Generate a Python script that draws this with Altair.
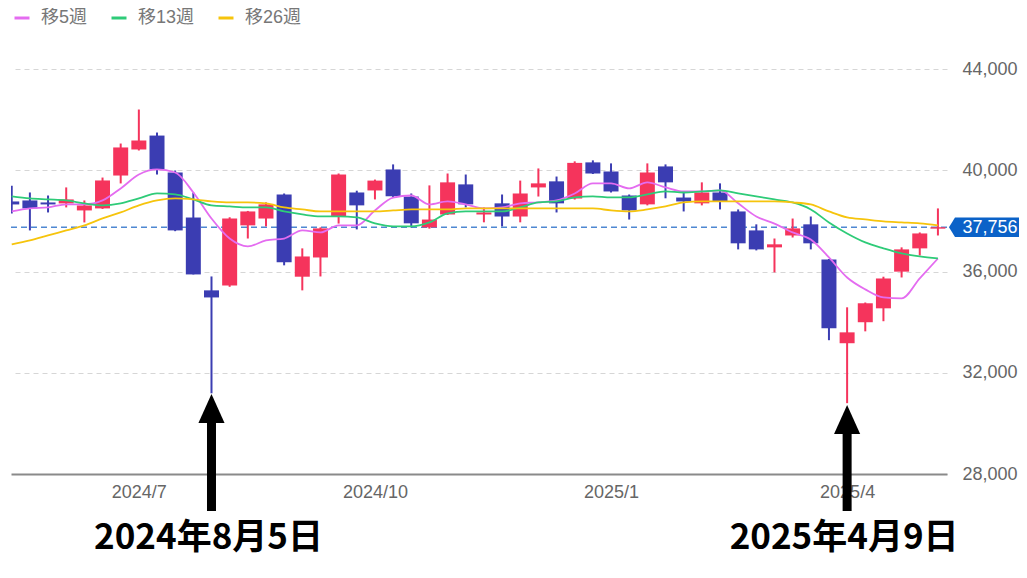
import altair as alt
import pandas as pd

# ---------------- data (weekly candles) ----------------
weeks = list(range(1, 53))
opens = [38775, 38815, 38736, 38697, 38420, 38500, 39800, 40830, 41380, 39920,
         38140, 35260, 35450, 37830, 38100, 39050, 35800, 36560, 38180, 39130,
         39210, 40040, 38970, 37750, 38260, 39450, 38260, 38700, 38180, 39330,
         39570, 38890, 40320, 39960, 39010, 38660, 40160, 38930, 38700, 39130,
         38380, 37630, 36960, 37430, 37870, 36480, 33170, 34000, 34550, 36000,
         36920, 37700]
highs = [39400, 39130, 39010, 39330, 38815, 39720, 41065, 42410, 41500, 40000,
         39130, 35810, 38150, 38400, 38740, 39090, 36920, 37750, 39880, 39200,
         39640, 40240, 39090, 39410, 39880, 39840, 38540, 39050, 39600, 40080,
         39760, 40360, 40400, 40280, 39050, 40280, 40240, 39130, 39530, 39490,
         38460, 37870, 37310, 38100, 38180, 36500, 34590, 34780, 35800, 36960,
         37550, 38500]
lows = [38300, 37630, 38340, 38540, 37946, 38480, 39487, 40790, 39840, 37600,
        35890, 31190, 35400, 37310, 37790, 36250, 35260, 35810, 37900, 37670,
        38855, 38950, 37750, 37700, 38240, 38540, 37950, 37790, 37950, 38970,
        38340, 38850, 39860, 39130, 38060, 38620, 38900, 38380, 38620, 38460,
        36880, 36840, 35970, 37350, 36880, 33290, 30800, 33640, 34040, 35770,
        36640, 37430]
closes = [38657, 38500, 38657, 38855, 38617, 39605, 40910, 41185, 40040, 37630,
          35890, 34980, 38100, 38380, 38660, 36370, 36600, 37710, 39840, 38620,
          39600, 38980, 37910, 38060, 39530, 38660, 38340, 38180, 39090, 39490,
          38700, 40300, 39880, 39170, 38420, 39920, 39530, 38775, 39130, 38775,
          37120, 36880, 37080, 37710, 37120, 33760, 33600, 34750, 35730, 36880,
          37510, 37756]

# moving averages
ma5 = [38380, 38500, 38540, 38660, 38660, 38815, 39290, 39840, 40040, 39920,
       39130, 38100, 37310, 37000, 37235, 37310, 37630, 37550, 37830, 37830,
       38420, 38930, 39010, 38660, 38780, 38660, 38500, 38540, 38700, 38740,
       38815, 39090, 39490, 39490, 39290, 39530, 39330, 39170, 39170, 39210,
       38700, 38180, 37900, 37550, 37270, 36560, 35770, 35300, 34980, 34940,
       35730, 36520]
ma13 = [38973, 38894, 38855, 38815, 38697, 38618, 38697, 38894, 39092, 39052,
        38855, 38618, 38578, 38540, 38540, 38380, 38262, 38183, 38183, 38144,
        37907, 37788, 37788, 37946, 38302, 38380, 38380, 38380, 38540, 38736,
        38776, 38933, 38973, 38933, 38933, 39052, 39170, 39130, 39170, 39210,
        39092, 38973, 38855, 38736, 38460, 37946, 37510, 37156, 36920, 36720,
        36600, 36524]
ma26 = [37077, 37235, 37433, 37630, 37828, 38104, 38341, 38618, 38815, 38894,
        38855, 38776, 38736, 38736, 38697, 38540, 38460, 38380, 38380, 38380,
        38380, 38420, 38460, 38460, 38460, 38500, 38500, 38500, 38500, 38500,
        38500, 38500, 38500, 38420, 38380, 38460, 38578, 38736, 38776, 38776,
        38776, 38776, 38776, 38736, 38657, 38380, 38144, 38064, 37986, 37946,
        37907, 37828]
ma_names = ["移5週", "移13週", "移26週"]

tick_weeks = [8, 21, 34, 47]
tick_labels = ["2024/7", "2024/10", "2025/1", "2025/4"]
y_ticks = [28000, 32000, 36000, 40000, 44000]
last_price = 37756
event_weeks = [12, 47]
event_labels = ["2024年8月5日", "2025年4月9日"]

# ---------------- styling ----------------
RED = "#f5345c"
BLUE = "#3b3db2"
MA_COLORS = ["#e46cf0", "#2ecb78", "#f6c40c"]
TAG_BLUE = "#0b62c8"
FONT = "Liberation Sans, Noto Sans CJK JP"

df = pd.DataFrame({"w": weeks, "open": opens, "high": highs, "low": lows, "close": closes})
ma_df = pd.concat([
    pd.DataFrame({"w": weeks, "v": vals, "series": name})
    for name, vals in zip(ma_names, [ma5, ma13, ma26])
])

xscale = alt.Scale(domain=[0.96, 52.5], nice=False, zero=False, padding=0)
yscale = alt.Scale(domain=[28000, 45000], nice=False, zero=False, padding=0)

label_expr = " : ".join(
    f"datum.value == {w} ? '{t}'" for w, t in zip(tick_weeks, tick_labels)
) + " : ''"

x_axis = alt.Axis(values=tick_weeks, labelExpr=label_expr, title=None, grid=False,
                  ticks=False, tickSize=0, domain=True, domainColor="#8a8a8a",
                  domainWidth=2, labelFontSize=18, labelColor="#666666",
                  labelPadding=9, labelFont=FONT)
y_axis = alt.Axis(orient="right", values=y_ticks, labelExpr="format(datum.value, ',')",
                  title=None, grid=True, gridDash=[5, 4], gridColor="#d6d6d6",
                  gridWidth=1, ticks=False, tickSize=0, domain=False, labelFontSize=18,
                  labelColor="#666666", labelPadding=15, labelFont=FONT)

candle_color = alt.condition("datum.close >= datum.open", alt.value(RED), alt.value(BLUE))

base = alt.Chart(df)

price_line = alt.Chart(pd.DataFrame({"p": [last_price]})).mark_rule(
    color="#4f88d2", strokeDash=[6, 4], strokeWidth=1.5
).encode(y=alt.Y("p:Q", scale=yscale, title=None))

wicks = base.mark_rule(strokeWidth=2, clip=True).encode(
    x=alt.X("w:Q", scale=xscale, axis=x_axis),
    y=alt.Y("low:Q", scale=yscale, axis=y_axis),
    y2="high:Q",
    color=candle_color,
)

bodies = base.mark_bar(size=15, clip=True).encode(
    x=alt.X("w:Q", scale=xscale, title=None),
    y=alt.Y("open:Q", scale=yscale, title=None),
    y2="close:Q",
    color=candle_color,
)

ma_lines = alt.Chart(ma_df).mark_line(strokeWidth=1.8, interpolate="monotone", clip=True).encode(
    x=alt.X("w:Q", scale=xscale, title=None),
    y=alt.Y("v:Q", scale=yscale, title=None),
    color=alt.Color(
        "series:N",
        scale=alt.Scale(domain=ma_names, range=MA_COLORS),
        sort=ma_names,
        legend=alt.Legend(
            orient="none", legendX=2, legendY=-35, direction="horizontal",
            title=None, symbolType="stroke", symbolStrokeWidth=3,
            symbolSize=225, labelFontSize=18, labelColor="#777777",
            labelFont=FONT, columnPadding=17, labelOffset=10, padding=0,
        ),
    ),
    detail="series:N",
)

tag_df = pd.DataFrame({"p": [last_price], "t": [f"{last_price:,}"]})
tag_shape = alt.Chart(tag_df).mark_point(
    shape="M-1,0L-0.846,-0.25L1,-0.25L1,0.25L-0.846,0.25Z",
    filled=True, opacity=1, color=TAG_BLUE, size=6084, strokeWidth=0,
).encode(x=alt.value(977), y=alt.Y("p:Q", scale=yscale, title=None))
tag_text = alt.Chart(tag_df).mark_text(
    color="white", fontSize=18, font=FONT, align="center", baseline="middle", dy=1
).encode(x=alt.value(979), y=alt.Y("p:Q", scale=yscale, title=None), text="t:N")

layers = [price_line, wicks, bodies, ma_lines, tag_shape, tag_text]

# arrows and event labels
arrow_tips = [394, 405]  # page y of arrow tips
for w, lab, tip in zip(event_weeks, event_labels, arrow_tips):
    ev = pd.DataFrame({"w": [w], "label": [lab]})
    tip_p = tip - 44
    shaft = alt.Chart(ev).mark_rule(color="black", strokeWidth=9).encode(
        x=alt.X("w:Q", scale=xscale, title=None),
        y=alt.value(tip_p + 28), y2=alt.value(467),
    )
    head = alt.Chart(ev).mark_point(
        shape="M0,-1L0.9,1L-0.9,1Z", filled=True, opacity=1, color="black",
        size=841, strokeWidth=0,
    ).encode(x=alt.X("w:Q", scale=xscale, title=None), y=alt.value(tip_p + 14.5))
    text = alt.Chart(ev).mark_text(
        font="Noto Sans CJK JP", fontWeight="bold", fontSize=35, color="black",
        align="center", baseline="middle", dx=-3,
    ).encode(x=alt.X("w:Q", scale=xscale, title=None), y=alt.value(494), text="label:N")
    layers += [shaft, head, text]

chart = alt.layer(*layers).properties(
    width=936, height=430,
    padding={"left": 3, "top": 36, "right": 72, "bottom": 90},
    autosize=alt.AutoSizeParams(type="none"),
    background="white",
).configure_view(stroke=None).configure_legend(labelFontSize=18, labelFont=FONT)

chart.save("out.html", embed_options={"renderer": "svg", "actions": False})
